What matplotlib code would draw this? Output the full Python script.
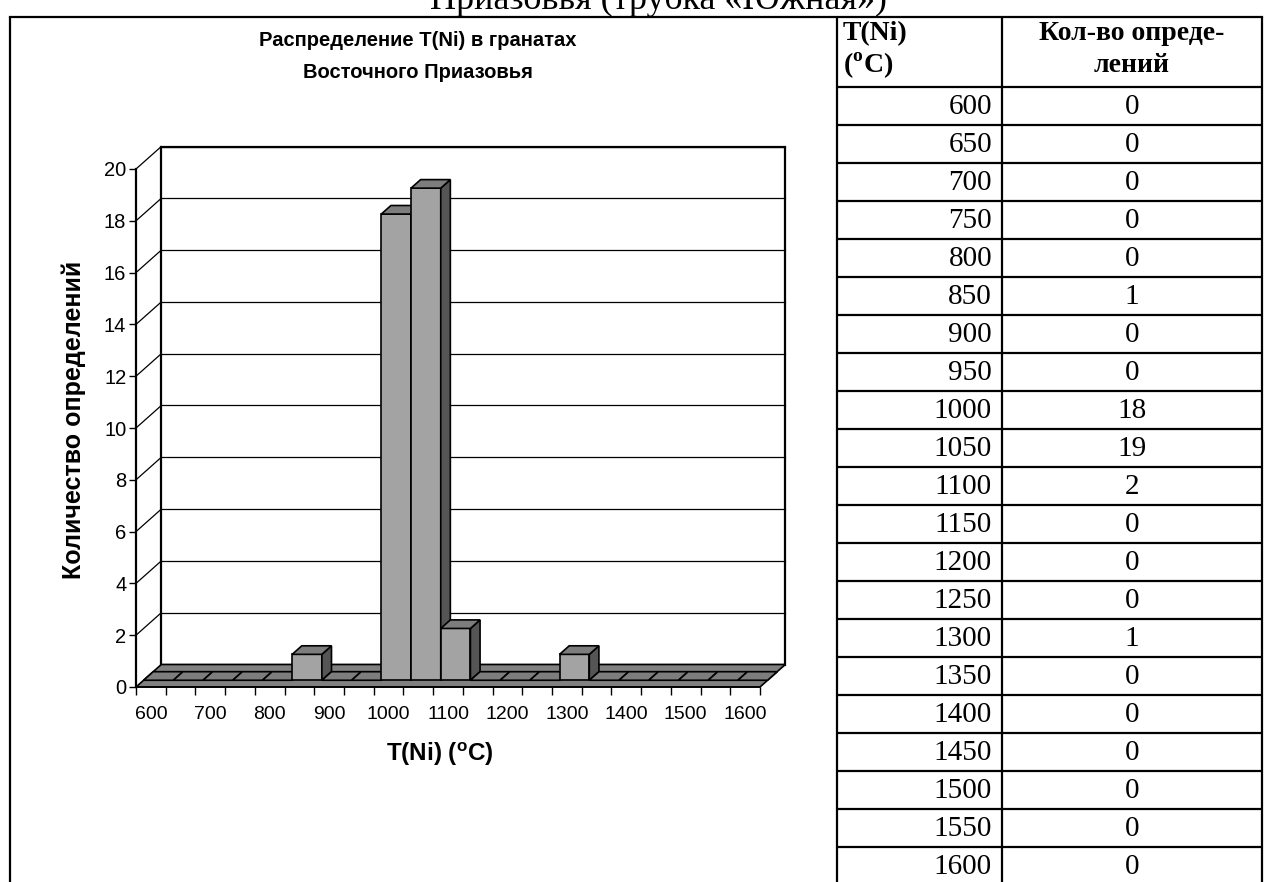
import matplotlib
matplotlib.use("Agg")
import matplotlib.pyplot as plt
from matplotlib.patches import Polygon

# data
temps = [600, 650, 700, 750, 800, 850, 900, 950, 1000, 1050, 1100,
         1150, 1200, 1250, 1300, 1350, 1400, 1450, 1500, 1550, 1600]
counts = [0, 0, 0, 0, 0, 1, 0, 0, 18, 19, 2, 0, 0, 0, 1, 0, 0, 0, 0, 0, 0]
x_labels = ['600', '700', '800', '900', '1000', '1100', '1200', '1300',
            '1400', '1500', '1600']
y_ticks = [0, 2, 4, 6, 8, 10, 12, 14, 16, 18, 20]

chart_title = ['Распределение T(Ni) в гранатах', 'Восточного Приазовья']
x_title = r'T(Ni) ($^{\mathsf{o}}$C)'
y_title = 'Количество определений'
page_head = 'Приазовья (трубка «Южная»)'
col_heads = [[r'T(Ni)', r'($^{\mathrm{o}}$C)'], ['Кол-во опреде-', 'лений']]

plt.rcParams['mathtext.fontset'] = 'custom'
plt.rcParams['mathtext.sf'] = 'Liberation Sans:bold'
plt.rcParams['mathtext.rm'] = 'Liberation Serif:bold'
sans = 'Liberation Sans'
serif = 'Liberation Serif'

W, H = 1273, 882
fig = plt.figure(figsize=(W / 100, H / 100), dpi=100)

# page layer in pixels (frame, table, texts)
page = fig.add_axes([0, 0, 1, 1])
page.set_xlim(0, W)
page.set_ylim(H, 0)
page.axis('off')

top_y = 17
tab_l, tab_m, tab_r = 837, 1002, 1262
head_bot, row_h = 87, 38
lw_page = 1.6

page.text(887, 9, page_head, ha='right', va='baseline', family=serif, fontsize=26)
page.plot([10, tab_r], [top_y, top_y], color='black', lw=lw_page)
page.vlines([10, tab_l, tab_m, tab_r], top_y, H, color='black', lw=lw_page)
page.hlines([head_bot + row_h * k for k in range(len(temps))], tab_l, tab_r,
            color='black', lw=lw_page)

page.text(tab_l + 6, 34, col_heads[0][0], ha='left', va='center', family=serif,
          weight='bold', fontsize=20)
page.text(tab_l + 6, 66, col_heads[0][1], ha='left', va='center', family=serif,
          weight='bold', fontsize=20)
page.text((tab_m + tab_r) / 2, 34, col_heads[1][0], ha='center', va='center',
          family=serif, weight='bold', fontsize=20)
page.text((tab_m + tab_r) / 2, 66, col_heads[1][1], ha='center', va='center',
          family=serif, weight='bold', fontsize=20)
for k, (t, c) in enumerate(zip(temps, counts)):
    yc = head_bot + row_h * k + row_h / 2 + 1
    page.text(tab_m - 10, yc, str(t), ha='right', va='center', family=serif, fontsize=21)
    page.text((tab_m + tab_r) / 2, yc, str(c), ha='center', va='center', family=serif,
              fontsize=21)

page.text(418, 40, chart_title[0], ha='center', va='center', family=sans,
          weight='bold', fontsize=14.5)
page.text(418, 73, chart_title[1], ha='center', va='center', family=sans,
          weight='bold', fontsize=14.5)
page.text(74, 420, y_title, rotation=90, ha='center', va='center', family=sans,
          weight='bold', fontsize=18)
page.text(440, 754, x_title, ha='center', va='center', family=sans, weight='bold',
          fontsize=17.5)

# chart axes: front plane of the 3D box
x0, x1, yb, yt = 136, 760, 687, 169
ax = fig.add_axes([x0 / W, 1 - yb / H, (x1 - x0) / W, (yb - yt) / H])
n = len(temps)
ax.set_xlim(0, n)
ax.set_ylim(0, 20)
ax.patch.set_visible(False)

# depth shift (pixels) converted to data units
DX, DY = 25.3, 22.5
OX = DX / ((x1 - x0) / n)
OY = DY / ((yb - yt) / 20)


def P(x, y, d):
    return (x + d * OX, y + d * OY)


def face(pts, fc, z, lw=1.2):
    ax.add_patch(Polygon(pts, closed=True, fc=fc, ec='black', lw=lw, zorder=z,
                         clip_on=False, joinstyle='miter'))


# back wall and gridlines
face([P(0, 0, 1), P(n, 0, 1), P(n, 20, 1), P(0, 20, 1)], 'white', 1, lw=1.6)
for v in y_ticks[1:]:
    ax.plot(*zip(P(0, v, 1), P(n, v, 1)), color='black', lw=0.9, zorder=1.5,
            clip_on=False)
    ax.plot(*zip(P(0, v, 0), P(0, v, 1)), color='black', lw=0.9, zorder=1.5,
            clip_on=False)

# floor
face([P(0, 0, 0), P(n, 0, 0), P(n, 0, 1), P(0, 0, 1)], '#808080', 2)

# bars, left to right
d0, d1 = 0.3, 0.68
for i, v in enumerate(counts):
    a, b = i, i + 1
    if v > 0:
        face([P(a, 0, d0), P(b, 0, d0), P(b, v, d0), P(a, v, d0)], '#a3a3a3', 3)
        face([P(b, 0, d0), P(b, 0, d1), P(b, v, d1), P(b, v, d0)], '#555555', 3)
    face([P(a, v, d0), P(b, v, d0), P(b, v, d1), P(a, v, d1)], '#7d7d7d', 3)

# axes dressing
for s in ['top', 'right']:
    ax.spines[s].set_visible(False)
ax.spines['left'].set_linewidth(1.6)
ax.spines['bottom'].set_linewidth(1.2)
ax.spines['left'].set_zorder(4)
ax.set_yticks(y_ticks)
ax.set_yticklabels([str(v) for v in y_ticks], family=sans, fontsize=14.5)
ax.tick_params(axis='y', length=5, width=1, pad=2)
ax.set_xticks(range(n + 1))
ax.set_xticklabels([])
ax.tick_params(axis='x', which='major', length=6, width=1)
ax.set_xticks([i + 0.5 for i in range(0, n, 2)], minor=True)
ax.set_xticklabels(x_labels, minor=True, family=sans, fontsize=14)
ax.tick_params(axis='x', which='minor', length=0, pad=14)

fig.savefig('out.png', dpi=100)
